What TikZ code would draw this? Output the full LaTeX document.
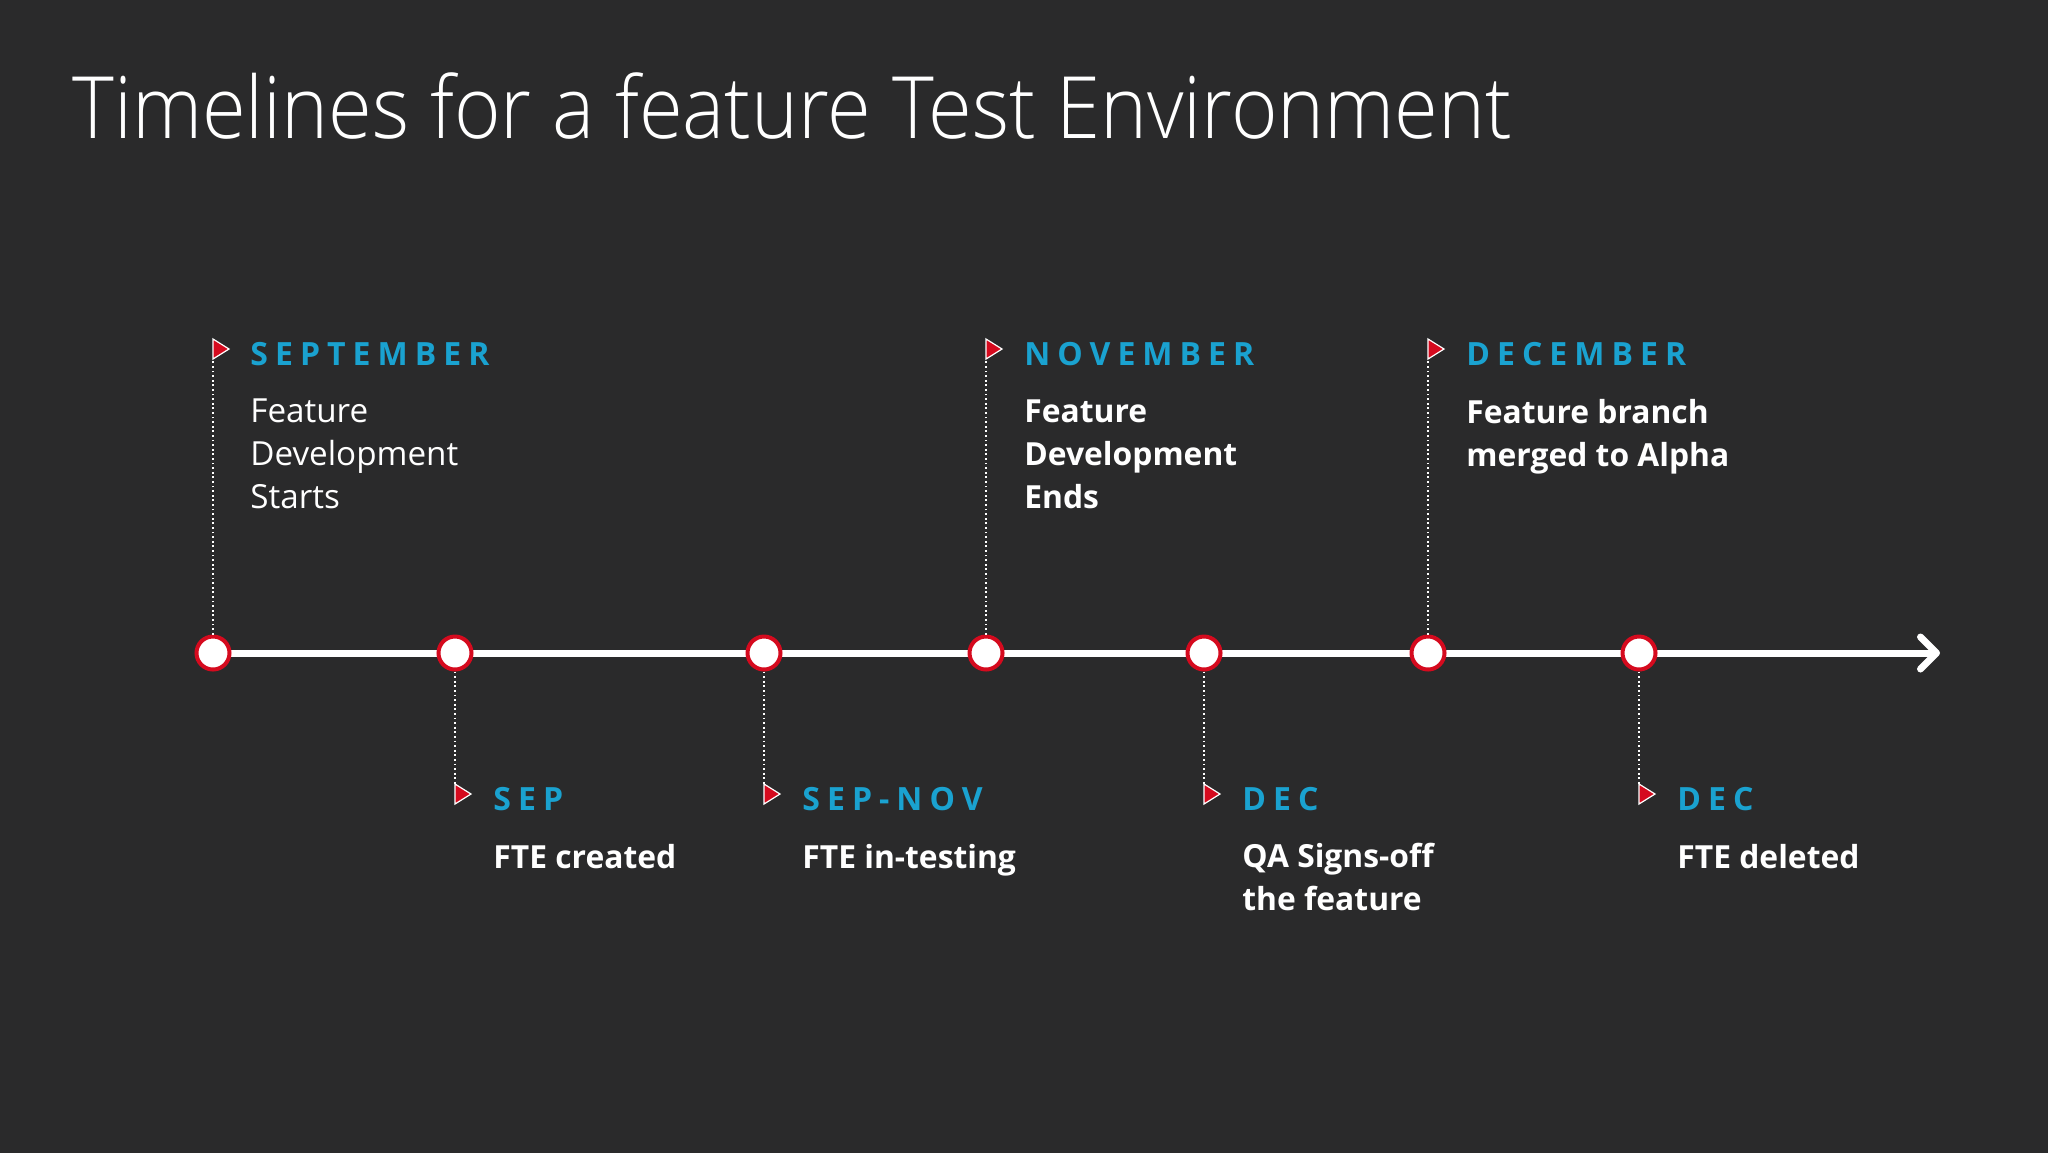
\documentclass[tikz,border=0pt]{standalone}
\usepackage{fontspec}
\setmainfont{Open Sans}
\newfontfamily\titlefont{Open Sans Light}[FakeStretch=0.925]
\newfontfamily\monthfont{Open Sans}[LetterSpace=22]
\usetikzlibrary{arrows.meta}
\definecolor{slate}{HTML}{2A2A2B}
\definecolor{skyblue}{HTML}{1AA2D0}
\definecolor{crimson}{HTML}{D50A1E}

\begin{document}
\begin{tikzpicture}[x=0.5pt,y=-0.5pt,
    milestone/.style={circle,fill=white,draw=crimson,line width=2pt,
                      minimum size=16.5pt,inner sep=0pt},
    axis/.style={white,line width=3.5pt,
                 -{Straight Barb[length=8pt,width=16pt,line cap=round,line join=round]}},
    leader/.style={white,line width=1pt,dash pattern=on 0.9pt off 1.4pt},
    flag/.style={fill=crimson,draw=white,line width=0.6pt},
    month/.style={anchor=base west,inner sep=0pt,text=skyblue,
                  font=\monthfont\bfseries\fontsize{16}{18}\selectfont},
    note/.style={anchor=base west,inner sep=0pt,text=white,align=left,
                 font=\fontsize{16.6}{21.3}\selectfont},
    boldnote/.style={note,font=\fontsize{15.9}{21.3}\selectfont\bfseries}]
\useasboundingbox (0,0) rectangle (2048,1152);
\fill[slate] (-4,-4) rectangle (2052,1156);

\node[anchor=base west,inner sep=0pt,text=white,
      font=\titlefont\fontsize{43}{50}\selectfont] (title) at (72,138)
      {Timelines for a feature Test Environment};

% time axis
\coordinate (start) at (213,653);
\coordinate (tip) at (1940,653);
\draw[axis] (start) -- (tip);

\node[milestone] (m1) at (213,653) {};
\node[milestone] (m2) at (455,653) {};
\node[milestone] (m3) at (764,653) {};
\node[milestone] (m4) at (986,653) {};
\node[milestone] (m5) at (1204,653) {};
\node[milestone] (m6) at (1428,653) {};
\node[milestone] (m7) at (1639,653) {};

% flags above the axis
\coordinate (f1) at (213,359);
\coordinate (f4) at (986,359);
\coordinate (f6) at (1428,359);
\draw[leader] (m1.north) -- (f1);
\draw[leader] (m4.north) -- (f4);
\draw[leader] (m6.north) -- (f6);
\draw[flag] (f1) -- ++(0,-20) -- ++(16,10) -- cycle;
\draw[flag] (f4) -- ++(0,-20) -- ++(16,10) -- cycle;
\draw[flag] (f6) -- ++(0,-20) -- ++(16,10) -- cycle;

% flags below the axis
\coordinate (f2) at (455,784);
\coordinate (f3) at (764,784);
\coordinate (f5) at (1204,784);
\coordinate (f7) at (1639,784);
\draw[leader] (m2.south) -- (f2);
\draw[leader] (m3.south) -- (f3);
\draw[leader] (m5.south) -- (f5);
\draw[leader] (m7.south) -- (f7);
\draw[flag] (f2) -- ++(0,20) -- ++(16,-10) -- cycle;
\draw[flag] (f3) -- ++(0,20) -- ++(16,-10) -- cycle;
\draw[flag] (f5) -- ++(0,20) -- ++(16,-10) -- cycle;
\draw[flag] (f7) -- ++(0,20) -- ++(16,-10) -- cycle;

% labels (base of a note = its last line)
\node[month] (sept) at (250,365) {SEPTEMBER};
\node[note] (sepnote) at (250,508) {Feature\\Development\\Starts};
\node[month] (nov) at (1024,365) {NOVEMBER};
\node[boldnote] (novnote) at (1024,508) {Feature\\Development\\Ends};
\node[month] (decm) at (1466,365) {DECEMBER};
\node[boldnote] (decnote) at (1466,466) {Feature branch\\merged to Alpha};

\node[month] (sep) at (493,810) {SEP};
\node[boldnote] (sepfte) at (493,868) {FTE created};
\node[month] (sepnov) at (802,810) {SEP-NOV};
\node[boldnote] (sepnovfte) at (802,868) {FTE in-testing};
\node[month] (dec) at (1242,810) {DEC};
\node[boldnote] (qanote) at (1242,910) {QA Signs-off\\the feature};
\node[month] (decdel) at (1677,810) {DEC};
\node[boldnote] (delnote) at (1677,868) {FTE deleted};
\end{tikzpicture}
\end{document}
